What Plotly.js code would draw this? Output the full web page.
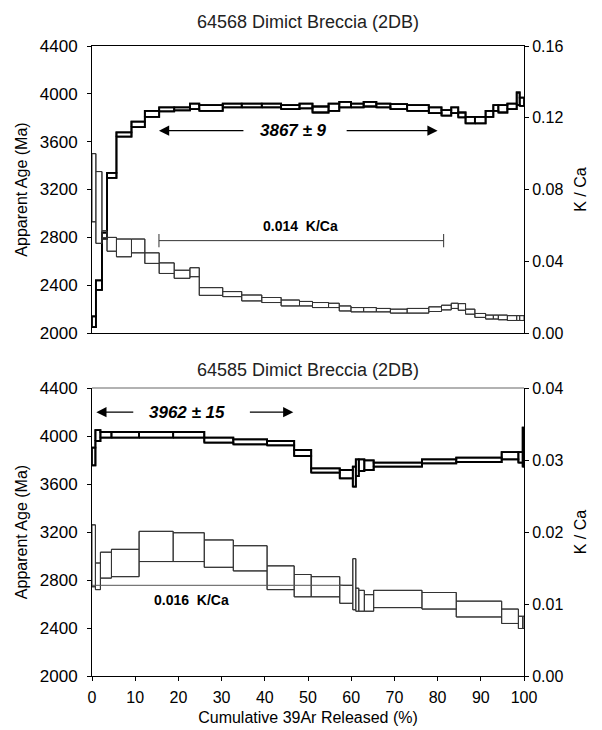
<!DOCTYPE html>
<html>
<head>
<meta charset="utf-8">
<script src="https://cdn.plot.ly/plotly-3.0.1.min.js"></script>
<style>html,body{margin:0;padding:0;background:#fff;}#chart{width:602px;height:730px;}</style>
</head>
<body>
<div id="chart"></div>
<script>
// ---------- Top panel: 64568 ----------
const topEdges = [0, 0.9, 2.3, 3.48, 5.66, 9.14, 12.23, 15.55, 19.03, 22.67, 24.83, 30.26, 34.66, 39.30, 43.78, 48.03, 51.04, 54.76, 57.24, 59.95, 62.88, 65.82, 69.07, 72.95, 77.96, 80.90, 83.16, 84.78, 86.47, 88.63, 91.11, 92.90, 94.06, 96.15, 98.31, 99.00, 100];
const topAgeLo = [2050, 2360, 2790, 3297, 3642, 3722, 3808, 3853, 3861, 3872, 3858, 3886, 3886, 3886, 3872, 3878, 3844, 3858, 3886, 3886, 3894, 3886, 3872, 3858, 3839, 3817, 3839, 3803, 3753, 3753, 3808, 3858, 3844, 3872, 3906, 3900];
const topAgeHi = [2140, 2440, 2840, 3339, 3678, 3767, 3858, 3886, 3886, 3919, 3906, 3919, 3919, 3919, 3906, 3919, 3894, 3919, 3933, 3919, 3933, 3919, 3914, 3906, 3886, 3864, 3886, 3844, 3808, 3808, 3858, 3906, 3906, 3919, 4011, 3969];
const topKCaLo = [0.062, 0.050, 0.053, 0.0456, 0.0425, 0.0447, 0.0388, 0.0332, 0.0305, 0.0314, 0.0210, 0.0203, 0.0179, 0.0170, 0.0151, 0.0151, 0.0142, 0.0142, 0.0123, 0.0118, 0.0118, 0.0118, 0.0111, 0.0111, 0.0120, 0.0129, 0.0137, 0.0127, 0.0105, 0.0087, 0.0078, 0.0078, 0.0074, 0.0070, 0.0070, 0.0070];
const topKCaHi = [0.100, 0.090, 0.057, 0.0533, 0.0524, 0.0524, 0.0447, 0.0391, 0.0350, 0.0364, 0.0253, 0.0231, 0.0212, 0.0198, 0.0184, 0.0176, 0.0170, 0.0166, 0.0151, 0.0142, 0.0142, 0.0137, 0.0133, 0.0137, 0.0146, 0.0155, 0.0166, 0.0164, 0.0133, 0.0109, 0.0100, 0.0100, 0.0100, 0.0097, 0.0097, 0.0097];

// ---------- Bottom panel: 64585 ----------
const botEdges = [0, 0.79, 1.95, 4.50, 10.90, 18.79, 25.99, 32.71, 40.53, 46.80, 50.74, 57.35, 60.37, 61.07, 61.76, 63.04, 65.20, 76.38, 84.32, 94.83, 98.70, 99.7, 100];
const botAgeLo = [3756, 3959, 3987, 3987, 3987, 3987, 3946, 3931, 3923, 3834, 3695, 3647, 3578, 3666, 3709, 3717, 3745, 3773, 3784, 3806, 3778, 3745];
const botAgeHi = [3904, 4049, 4034, 4034, 4034, 4034, 3987, 3973, 3959, 3884, 3731, 3717, 3745, 3806, 3806, 3798, 3778, 3806, 3820, 3867, 3867, 4071];
const botKCaLo = [0.0124, 0.0120, 0.0136, 0.0138, 0.0159, 0.0159, 0.0151, 0.0146, 0.0120, 0.0110, 0.0110, 0.0101, 0.0092, 0.0090, 0.0090, 0.0090, 0.0095, 0.0093, 0.0082, 0.0073, 0.0066, 0.0066];
const botKCaHi = [0.0210, 0.0157, 0.0172, 0.0176, 0.0201, 0.0199, 0.0189, 0.0181, 0.0153, 0.0141, 0.0138, 0.0126, 0.0163, 0.0122, 0.0119, 0.0113, 0.0119, 0.0116, 0.0104, 0.0093, 0.0083, 0.0083];

const xTicks = [0, 10, 20, 30, 40, 50, 60, 70, 80, 90, 100];
const ageTicks = [2000, 2400, 2800, 3200, 3600, 4000, 4400];
const topKCaTicks = [0, 0.04, 0.08, 0.12, 0.16];
const botKCaTicks = [0, 0.01, 0.02, 0.03, 0.04];

// rectangles for every step
function boxes(edges, lo, hi) {
  const x = [], y = [];
  for (let i = 0; i < lo.length; i++) {
    const a = edges[i], b = edges[i + 1];
    x.push(a, b, b, a, a, null);
    y.push(lo[i], lo[i], hi[i], hi[i], lo[i], null);
  }
  return {x, y};
}
// continuous stepped outline through the upper and lower bounds
function outline(edges, vals) {
  return {x: edges.slice(), y: vals.concat([vals[vals.length - 1]])};
}

const F = 'Liberation Sans, Arial, sans-serif';
function tr(d, xa, ya, w, c, shape) {
  return {type: 'scatter', mode: 'lines', x: d.x, y: d.y, xaxis: xa, yaxis: ya,
    line: {color: c, width: w, shape: shape || 'linear'}, connectgaps: false, hoverinfo: 'skip'};
}
function spectrum(edges, lo, hi, xa, ya, w, c) {
  return [
    tr(boxes(edges, lo, hi), xa, ya, w, c),
    tr(outline(edges, hi), xa, ya, w, c, 'hv'),
    tr(outline(edges, lo), xa, ya, w, c, 'hv')
  ];
}
const data = [].concat(
  spectrum(topEdges, topKCaLo, topKCaHi, 'x', 'y2', 1, '#333'),
  spectrum(topEdges, topAgeLo, topAgeHi, 'x', 'y', 1.8, '#000'),
  spectrum(botEdges, botKCaLo, botKCaHi, 'x2', 'y4', 1, '#333'),
  spectrum(botEdges, botAgeLo, botAgeHi, 'x2', 'y3', 1.8, '#000')
);

const axBase = {showgrid: false, zeroline: false, showline: true, linecolor: '#000', linewidth: 1,
  ticks: 'outside', ticklen: 4, tickcolor: '#000', tickfont: {family: F, size: 16, color: '#000'}};

function arrow(xr, yr, head, tail, y) {
  return {xref: xr, yref: yr, axref: xr, ayref: yr, x: head, y: y, ax: tail, ay: y, text: '',
    showarrow: true, arrowhead: 2, arrowsize: 1.7, arrowwidth: 1.2, arrowcolor: '#000'};
}

const layout = {
  width: 602, height: 730,
  margin: {l: 92, r: 78, t: 46, b: 54},
  paper_bgcolor: '#fff', plot_bgcolor: '#fff',
  showlegend: false,
  xaxis: Object.assign({}, axBase, {domain: [0, 1], anchor: 'y', range: [0, 100], tickvals: xTicks,
    showticklabels: false, ticks: '', mirror: true}),
  yaxis: Object.assign({}, axBase, {domain: [0.5444, 1], anchor: 'x', range: [2000, 4400], tickvals: ageTicks,
    tickfont: {family: F, size: 17, color: '#000'}, ticklabelstandoff: 6,
    title: {text: 'Apparent Age (Ma)', font: {family: F, size: 16, color: '#000'}, standoff: 8}}),
  yaxis2: Object.assign({}, axBase, {overlaying: 'y', side: 'right', anchor: 'x', range: [0, 0.16],
    tickvals: topKCaTicks, tickformat: '.2f',
    title: {text: 'K / Ca', font: {family: F, size: 16, color: '#000'}, standoff: 12}}),
  xaxis2: Object.assign({}, axBase, {domain: [0, 1], anchor: 'y3', range: [0, 100], tickvals: xTicks,
    ticklabelstandoff: 3,
    title: {text: 'Cumulative 39Ar Released (%)', font: {family: F, size: 16, color: '#000'}, standoff: 6}}),
  yaxis3: Object.assign({}, axBase, {domain: [0, 0.457], anchor: 'x2', range: [2000, 4400], tickvals: ageTicks,
    tickfont: {family: F, size: 17, color: '#000'}, ticklabelstandoff: 6,
    title: {text: 'Apparent Age (Ma)', font: {family: F, size: 16, color: '#000'}, standoff: 8}}),
  yaxis4: Object.assign({}, axBase, {overlaying: 'y3', side: 'right', anchor: 'x2', range: [0, 0.04],
    tickvals: botKCaTicks, tickformat: '.2f',
    title: {text: 'K / Ca', font: {family: F, size: 16, color: '#000'}, standoff: 12}}),
  shapes: [
    {type: 'line', xref: 'x2 domain', yref: 'y3 domain', x0: 0, x1: 1, y0: 1, y1: 1, line: {color: '#999', width: 1.5}},
    {type: 'line', xref: 'x', yref: 'y2', x0: 15.5, x1: 81.4, y0: 0.0515, y1: 0.0515, line: {color: '#333', width: 1}},
    {type: 'line', xref: 'x', yref: 'y2', x0: 15.5, x1: 15.5, y0: 0.0478, y1: 0.0552, line: {color: '#333', width: 1}},
    {type: 'line', xref: 'x', yref: 'y2', x0: 81.4, x1: 81.4, y0: 0.0478, y1: 0.0552, line: {color: '#333', width: 1}},
    {type: 'line', xref: 'x2', yref: 'y4', x0: 0, x1: 58, y0: 0.0126, y1: 0.0126, line: {color: '#555', width: 1}}
  ],
  annotations: [
    {xref: 'paper', yref: 'paper', x: 0.5, y: 1.038, yanchor: 'middle', text: '64568 Dimict Breccia (2DB)', showarrow: false,
      font: {family: F, size: 18, color: '#222'}},
    {xref: 'paper', yref: 'paper', x: 0.5, y: 0.4857, yanchor: 'middle', text: '64585 Dimict Breccia (2DB)', showarrow: false,
      font: {family: F, size: 18, color: '#222'}},
    {xref: 'x', yref: 'y', x: 46.6, y: 3692, text: '<b><i>3867 ± 9</i></b>', showarrow: false,
      font: {family: F, size: 17, color: '#000'}},
    arrow('x', 'y', 15.5, 35.4, 3692),
    arrow('x', 'y', 80.0, 58.6, 3692),
    {xref: 'x', yref: 'y2', x: 48.2, y: 0.0594, text: '<b>0.014  K/Ca</b>', showarrow: false,
      font: {family: F, size: 14, color: '#000'}},
    {xref: 'x2', yref: 'y3', x: 22.1, y: 4199, text: '<b><i>3962 ± 15</i></b>', showarrow: false,
      font: {family: F, size: 17, color: '#000'}},
    arrow('x2', 'y3', 1.0, 9.9, 4199),
    arrow('x2', 'y3', 46.6, 36.2, 4199),
    {xref: 'x2', yref: 'y4', x: 23.1, y: 0.0106, text: '<b>0.016  K/Ca</b>', showarrow: false,
      font: {family: F, size: 14, color: '#000'}}
  ]
};

Plotly.newPlot('chart', data, layout, {staticPlot: true, displayModeBar: false});
</script>
</body>
</html>
